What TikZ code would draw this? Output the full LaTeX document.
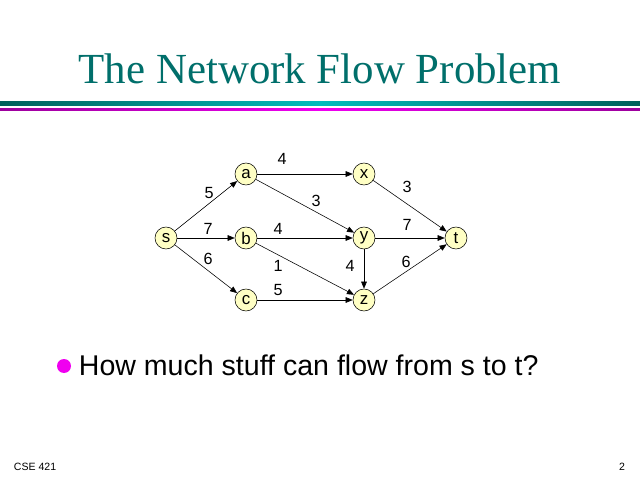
\documentclass[tikz,border=0pt]{standalone}
\usepackage{fontspec}
\setmainfont{Liberation Sans}
\newfontfamily\titlefont{Liberation Serif}
\usetikzlibrary{arrows.meta}

\definecolor{slideteal}{HTML}{005F5A}
\definecolor{slidecyan}{HTML}{00BDBD}
\definecolor{slidepink}{HTML}{F000F0}
\definecolor{slideplum}{HTML}{9C009C}
\definecolor{vertexfill}{HTML}{FFFFC4}

\tikzset{
  vertex/.style={circle, draw, thin, fill=vertexfill, minimum size=0.55cm, inner sep=0pt, font=\fontsize{12}{12}\selectfont},
  flow/.style={-{Triangle[length=5pt, width=4pt]}, thin},
  capacity/.style={font=\fontsize{11.5}{11.5}\selectfont}
}

\begin{document}
\begin{tikzpicture}[x=0.025cm, y=-0.025cm]

% Page
\useasboundingbox (0,0) rectangle (640,480);
\fill[white] (0,0) rectangle (640,480);

% Title and rules
\node[text=slideteal!90!cyan, font=\titlefont\fontsize{30.5}{30.5}\selectfont] (title) at (320,69) {The Network Flow Problem};
\shade[left color=slideteal, right color=slideteal, middle color=slidecyan] (0,101) rectangle (640,105.5);
\shade[left color=slideplum, right color=slideplum, middle color=slidepink] (0,108.5) rectangle (640,110.5);

% Vertices
\node[vertex] (s) at (166,238) {s};
\node[vertex] (a) at (246,174) {a};
\node[vertex] (b) at (246,238) {b};
\node[vertex] (c) at (246,300) {c};
\node[vertex] (x) at (364,174) {x};
\node[vertex] (y) at (364,238) {y};
\node[vertex] (z) at (364,300) {z};
\node[vertex] (t) at (456,238) {t};

% Edges
\draw[flow] (s) -- (a);
\draw[flow] (s) -- (b);
\draw[flow] (s) -- (c);
\draw[flow] (a) -- (x);
\draw[flow] (a) -- (y);
\draw[flow] (b) -- (y);
\draw[flow] (b) -- (z);
\draw[flow] (c) -- (z);
\draw[flow] (x) -- (t);
\draw[flow] (y) -- (t);
\draw[flow] (y) -- (z);
\draw[flow] (z) -- (t);

% Capacities
\node[capacity] (ksa) at (209,193) {5};
\node[capacity] (ksb) at (208,229) {7};
\node[capacity] (ksc) at (208,259) {6};
\node[capacity] (kax) at (282,159) {4};
\node[capacity] (kay) at (316,201) {3};
\node[capacity] (kby) at (278,229) {4};
\node[capacity] (kbz) at (278,266) {1};
\node[capacity] (kcz) at (278,290) {5};
\node[capacity] (kxt) at (407,187) {3};
\node[capacity] (kyt) at (407,225) {7};
\node[capacity] (kyz) at (350,266) {4};
\node[capacity] (kzt) at (406,262) {6};

% Bullet
\fill[slidepink] (64,366) circle (7);
\node[anchor=west, font=\fontsize{20.3}{20.3}\selectfont] (question) at (74,365) {How much stuff can flow from s to t?};

% Footer
\node[anchor=west, font=\fontsize{7.5}{7.5}\selectfont] (course) at (9,467) {CSE 421};
\node[anchor=east, font=\fontsize{7.5}{7.5}\selectfont] (page) at (630,467) {2};

\end{tikzpicture}
\end{document}
